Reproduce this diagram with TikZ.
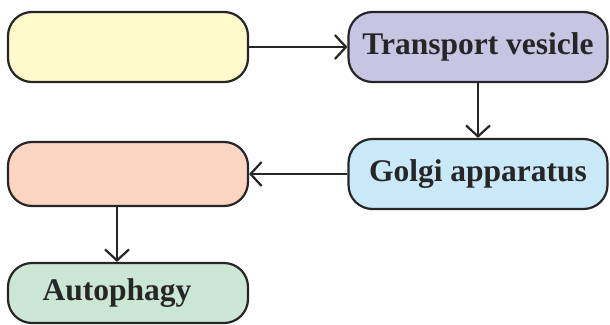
\documentclass[tikz,border=0pt]{standalone}
\usepackage{fontspec}
\setmainfont{Liberation Serif}
\usetikzlibrary{arrows.meta}
\definecolor{boxyellow}{HTML}{FFF9CC}
\definecolor{boxpurple}{HTML}{C8C5E3}
\definecolor{boxblue}{HTML}{C9E9F8}
\definecolor{boxsalmon}{HTML}{FCD4C2}
\definecolor{boxgreen}{HTML}{CCE6D6}
\tikzstyle{stage}=[draw=black!85,line width=2.2pt,rounded corners=24pt,inner sep=0pt,font=\fontsize{31.5}{34}\selectfont\bfseries,text=black!85]
\tikzstyle{flow}=[draw=black!85,line width=2.2pt,-{Straight Barb[length=11pt,width=24pt,line width=2.2pt]}]

\begin{document}
\begin{tikzpicture}[x=1pt,y=1pt]
    \useasboundingbox (0,0) rectangle (610,-324);
    \node[stage,fill=boxyellow,minimum width=240pt,minimum height=70pt] (er) at (128,-47) {};
    \node[stage,fill=boxpurple,minimum width=259pt,minimum height=70pt] (tv) at (478,-47) {Transport vesicle};
    \node[stage,fill=boxblue,minimum width=259pt,minimum height=70pt] (golgi) at (478,-174) {Golgi apparatus};
    \node[stage,fill=boxsalmon,minimum width=240pt,minimum height=64pt] (lyso) at (128,-174) {};
    \node[stage,fill=boxgreen,minimum width=240pt,minimum height=60pt] (auto) at (128,-293) {\hspace*{-22pt}Autophagy};

    \draw[flow] (er) -- (tv);
    \draw[flow] (tv) -- (golgi);
    \draw[flow] (golgi) -- (lyso);
    \draw[flow] ([xshift=-11pt]lyso.south) -- ([xshift=-11pt]auto.north);
\end{tikzpicture}
\end{document}
